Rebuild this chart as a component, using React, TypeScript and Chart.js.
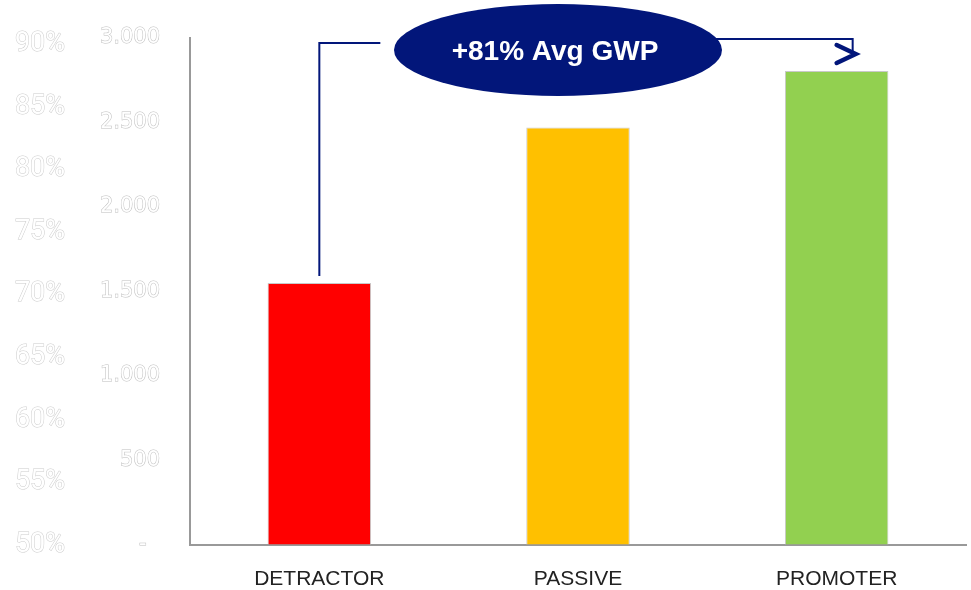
import React, { useEffect, useRef } from "react";
import { Chart, registerables } from "chart.js";

Chart.register(...registerables);

const categories = ["DETRACTOR", "PASSIVE", "PROMOTER"];
const gwpValues = [1550, 2470, 2805];
const barColors = ["#FF0000", "#FFC000", "#92D050"];
const valueTicks = [0, 500, 1000, 1500, 2000, 2500, 3000];
const percentTicks = [50, 55, 60, 65, 70, 75, 80, 85, 90];
const calloutText = "+81% Avg GWP";

const NAVY = "#02167A";

const fmtThousands = (v: number) =>
  v === 0 ? "-  " : String(v).replace(/\B(?=(\d{3})+(?!\d))/g, ".");

const calloutPlugin = {
  id: "callout",
  afterDraw(chart: any) {
    const ctx = chart.ctx as CanvasRenderingContext2D;
    const x = chart.scales.x;
    const y = chart.scales.y;
    const xDet = x.getPixelForValue(0);
    const xPas = x.getPixelForValue(1);
    const xPro = x.getPixelForValue(2);
    const detTop = y.getPixelForValue(gwpValues[0]);
    const top = chart.chartArea.top;

    const cx = xPas - 20;
    const cy = top + 12;
    const rx = 164;
    const ry = 46;

    ctx.save();
    ctx.strokeStyle = NAVY;
    ctx.lineWidth = 2;
    ctx.lineCap = "butt";
    // left connector
    ctx.beginPath();
    ctx.moveTo(xDet, detTop - 7);
    ctx.lineTo(xDet, top + 5);
    ctx.lineTo(xDet + 61, top + 5);
    ctx.stroke();
    // right connector
    ctx.beginPath();
    ctx.moveTo(cx + 150, top + 1);
    ctx.lineTo(xPro + 16, top + 1);
    ctx.lineTo(xPro + 16, top + 15);
    ctx.stroke();

    // ellipse
    ctx.fillStyle = NAVY;
    ctx.beginPath();
    ctx.ellipse(cx, cy, rx, ry, 0, 0, Math.PI * 2);
    ctx.fill();

    // text
    ctx.fillStyle = "#FFFFFF";
    ctx.font = "bold 28px 'Liberation Sans', Arial, sans-serif";
    ctx.textAlign = "center";
    ctx.textBaseline = "middle";
    ctx.fillText(calloutText, cx - 3, cy + 2);

    // chevron
    ctx.lineWidth = 4.5;
    ctx.lineCap = "round";
    ctx.lineJoin = "miter";
    ctx.beginPath();
    ctx.moveTo(xPro, top + 7);
    ctx.lineTo(xPro + 19, top + 16);
    ctx.lineTo(xPro, top + 25);
    ctx.stroke();
    ctx.restore();
  },
};

export default function App() {
  const canvasRef = useRef<HTMLCanvasElement | null>(null);

  useEffect(() => {
    const canvas = canvasRef.current;
    if (!canvas) return;
    const chart = new Chart(canvas, {
      type: "bar",
      data: {
        labels: categories,
        datasets: [
          {
            data: gwpValues,
            backgroundColor: barColors,
            borderColor: "#C9C9C9",
            borderWidth: 1,
            categoryPercentage: 1,
            barPercentage: 0.4,
            yAxisID: "y",
          },
        ],
      },
      options: {
        responsive: false,
        animation: false,
        layout: { padding: { top: 38, right: 5, left: 0, bottom: 0 } },
        plugins: {
          legend: { display: false },
          tooltip: { enabled: false },
        },
        scales: {
          x: {
            grid: { display: false, drawTicks: false },
            border: { display: true, color: "#999999", width: 2 },
            ticks: {
              color: "#222222",
              padding: 22,
              font: { family: "'Liberation Sans', Arial, sans-serif", size: 21 },
            },
            afterFit(scale: any) {
              scale.height = 45;
            },
          },
          y: {
            position: "left",
            weight: 0,
            min: 0,
            max: 3000,
            grid: {
              display: true,
              drawOnChartArea: false,
              drawTicks: true,
              tickLength: 30,
              color: "rgba(0,0,0,0)",
            },
            border: { display: true, color: "#999999", width: 2 },
            afterBuildTicks(scale: any) {
              scale.ticks = valueTicks.map((v) => ({ value: v }));
            },
            ticks: {
              color: "#FFFFFF",
              textStrokeColor: "#BDBDBD",
              textStrokeWidth: 1,
              padding: 0,
              font: { family: "'DejaVu Sans', sans-serif", size: 21 },
              callback: (v: any) => fmtThousands(Number(v)),
            },
            afterFit(scale: any) {
              scale.width = 115;
            },
          },
          pct: {
            position: "left",
            weight: 5,
            min: 50,
            max: 90.5,
            grid: {
              display: true,
              drawOnChartArea: false,
              drawTicks: true,
              tickLength: 10,
              color: "rgba(0,0,0,0)",
            },
            border: { display: false },
            afterBuildTicks(scale: any) {
              scale.ticks = percentTicks.map((v) => ({ value: v }));
            },
            ticks: {
              color: "#FFFFFF",
              textStrokeColor: "#CCCCCC",
              textStrokeWidth: 1,
              padding: 0,
              font: { family: "Roboto, 'Liberation Sans', sans-serif", size: 27 },
              callback: (v: any) => `${v}%`,
            },
            afterFit(scale: any) {
              scale.width = 75;
            },
          },
        },
      } as any,
      plugins: [calloutPlugin],
    });
    return () => chart.destroy();
  }, []);

  return (
    <div style={{ position: "fixed", left: 0, top: 0, width: 971, height: 590, background: "#FFFFFF" }}>
      <canvas ref={canvasRef} width={971} height={590} style={{ display: "block" }} />
    </div>
  );
}
